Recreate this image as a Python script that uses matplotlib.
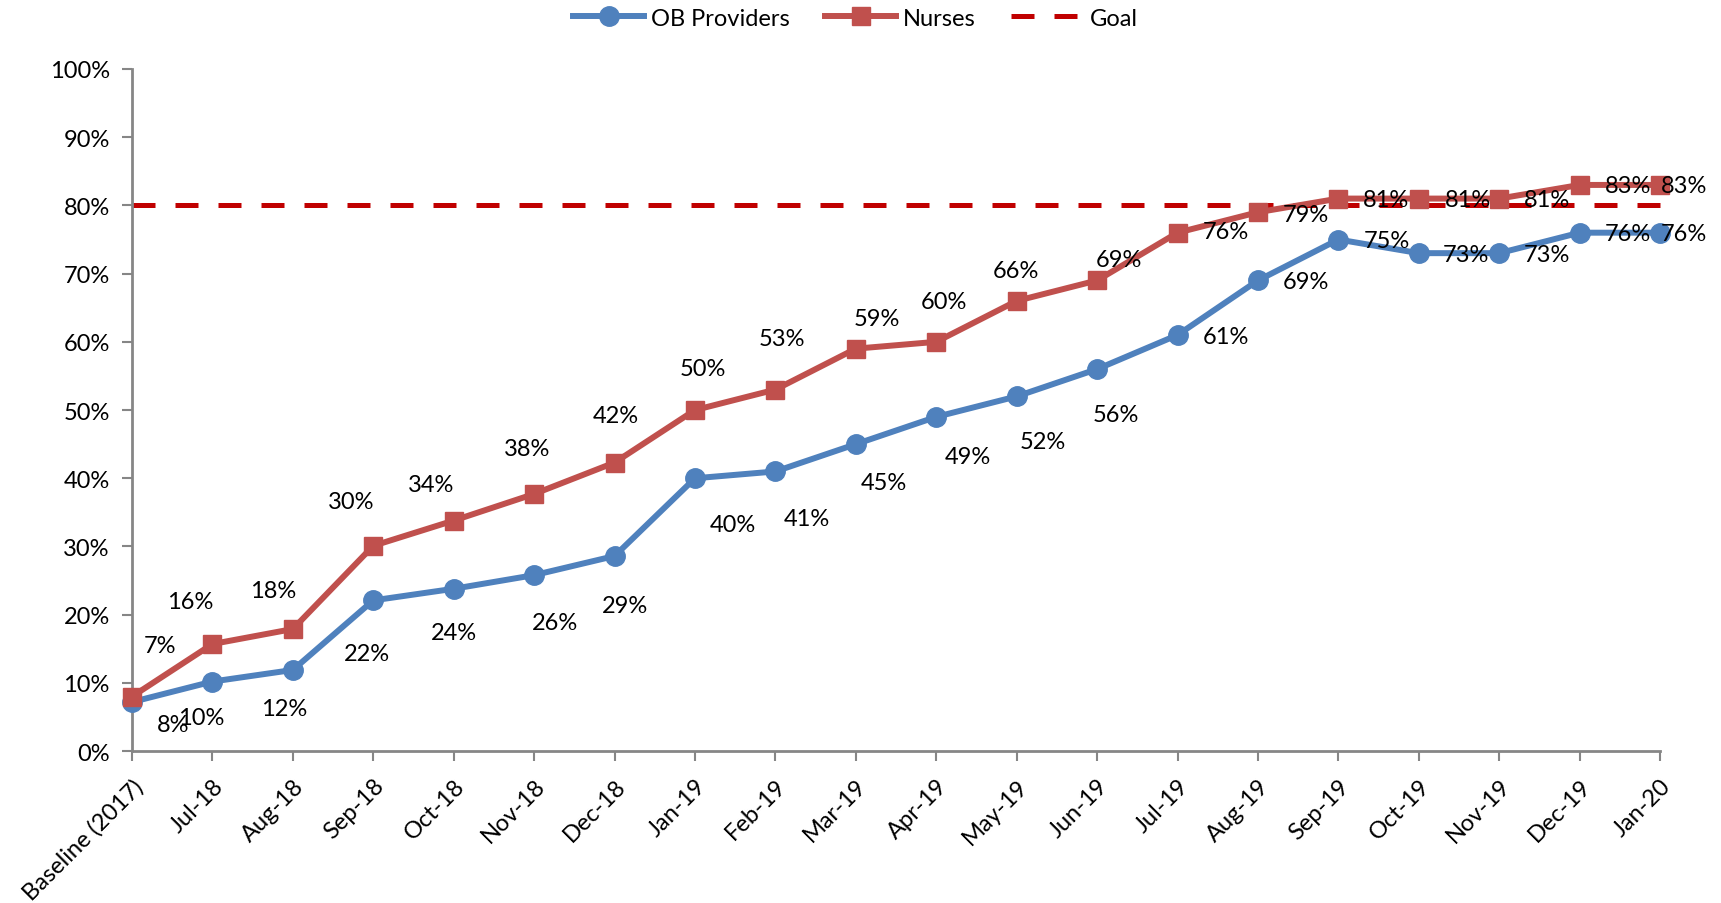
import matplotlib
matplotlib.use('Agg')
import matplotlib.pyplot as plt
from matplotlib.ticker import PercentFormatter

# Data
months = ['Baseline (2017)', 'Jul-18', 'Aug-18', 'Sep-18', 'Oct-18', 'Nov-18', 'Dec-18',
          'Jan-19', 'Feb-19', 'Mar-19', 'Apr-19', 'May-19', 'Jun-19', 'Jul-19', 'Aug-19',
          'Sep-19', 'Oct-19', 'Nov-19', 'Dec-19', 'Jan-20']
ob_providers = [7.2, 10.2, 11.9, 22.1, 23.8, 25.8, 28.6, 40, 41, 45, 49, 52, 56, 61, 69,
                75, 73, 73, 76, 76]
nurses = [8.0, 15.7, 17.9, 30.1, 33.8, 37.7, 42.3, 50, 53, 59, 60, 66, 69, 76, 79,
          81, 81, 81, 83, 83]
# labels as printed on the chart (baseline labels appear swapped in the original)
ob_labels = ['8%', '10%', '12%', '22%', '24%', '26%', '29%', '40%', '41%', '45%', '49%',
             '52%', '56%', '61%', '69%', '75%', '73%', '73%', '76%', '76%']
nurse_labels = ['7%', '16%', '18%', '30%', '34%', '38%', '42%', '50%', '53%', '59%', '60%',
                '66%', '69%', '76%', '79%', '81%', '81%', '81%', '83%', '83%']
goal = 80

# label offsets in pixels (dx, dy)
ob_off = [(41, -22), (-11, -36), (-9, -39), (-6, -53), (0, -44), (21, -47), (10, -49),
          (38, -46), (31, -47), (28, -38), (32, -40), (26, -45), (19, -45), (48, -1),
          (48, -1), (48, -1), (47, -1), (48, -1), (48, -1), (24, -1)]
nurse_off = [(28, 51), (-22, 43), (-20, 39), (-22, 44), (-23, 36), (-7, 45), (1, 47),
             (8, 42), (7, 51), (21, 30), (8, 40), (-1, 30), (22, 21), (48, 1), (48, -2),
             (48, -1), (49, -1), (48, -1), (48, -1), (24, -1)]

plt.rcParams['font.family'] = ['Lato', 'DejaVu Sans']
blue = '#4F81BD'
red = '#C0504D'
goal_col = '#C00000'
axis_col = '#868686'
fs = 17

fig = plt.figure(figsize=(17.21, 9.04), dpi=100)
ax = fig.add_axes([0.0767, 0.168, 0.8879, 0.7546])

x = list(range(len(months)))
ax.plot(x, ob_providers, color=blue, lw=4.3, marker='o', ms=14, label='OB Providers', zorder=3)
ax.plot(x, nurses, color=red, lw=4.3, marker='s', ms=13.5, label='Nurses', zorder=3)
ax.plot([x[0], x[-1]], [goal, goal], color=goal_col, lw=3.6, ls=(0, (4.6, 4)),
        label='Goal', zorder=2)

for i in x:
    ax.annotate(ob_labels[i], (i, ob_providers[i]), xytext=ob_off[i], textcoords='offset pixels',
                ha='center', va='center', fontsize=fs, zorder=4)
    ax.annotate(nurse_labels[i], (i, nurses[i]), xytext=nurse_off[i], textcoords='offset pixels',
                ha='center', va='center', fontsize=fs, zorder=4)

ax.set_xlim(0, len(months) - 1)
ax.set_ylim(0, 100)
ax.set_yticks(range(0, 101, 10))
ax.yaxis.set_major_formatter(PercentFormatter(decimals=0))
ax.set_xticks(x)
ax.set_xticklabels(months, rotation=45, ha='right', rotation_mode='anchor')
ax.tick_params(axis='both', labelsize=fs, color=axis_col, width=1.5, length=7, direction='out')
ax.tick_params(axis='y', pad=9)
ax.tick_params(axis='x', pad=10)

for s in ['top', 'right']:
    ax.spines[s].set_visible(False)
for s in ['left', 'bottom']:
    ax.spines[s].set_color(axis_col)
    ax.spines[s].set_linewidth(2)
for ln in ax.lines:
    ln.set_clip_on(False)

fig.legend(loc='upper center', bbox_to_anchor=(0.497, 1.014), ncol=3, frameon=False,
           fontsize=fs, handlelength=3.0, columnspacing=1.5, handletextpad=0.3)

fig.savefig('out.png', dpi=100)
